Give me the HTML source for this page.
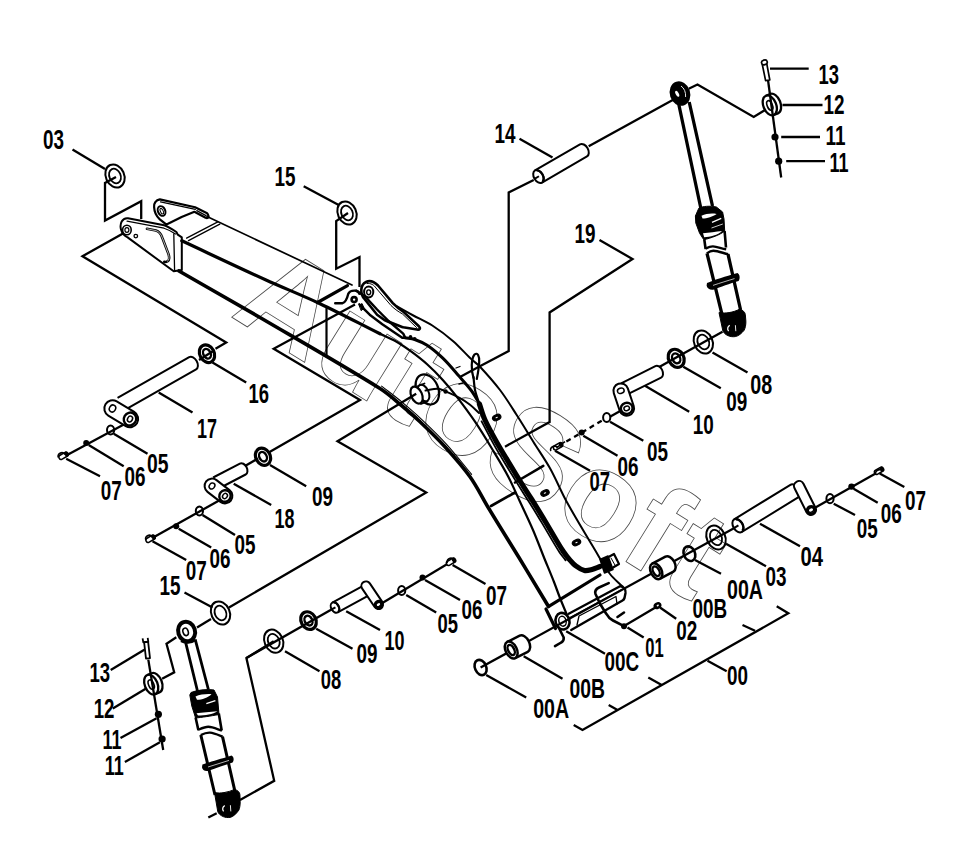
<!DOCTYPE html>
<html><head><meta charset="utf-8"><title>Boom parts</title>
<style>
html,body{margin:0;padding:0;background:#fff;overflow:hidden;}
svg{display:block;}
.t{font-family:"Liberation Sans",sans-serif;font-weight:bold;font-size:27px;fill:#000;stroke:none;}
</style></head><body>
<svg width="959" height="851" viewBox="0 0 959 851">
<rect width="959" height="851" fill="#fff"/>
<g id="wm" fill="none" stroke="#8a8a8a" stroke-width="0.8">
<text x="0" y="0" transform="translate(229,315.5) rotate(31.8)" style="font-family:'Liberation Sans',sans-serif;font-weight:bold;font-size:128px" fill="none" stroke="#4a4a4a" stroke-width="0.8">AutoSof<tspan dx="5">t</tspan></text>

</g>
<g id="boom" fill="none" stroke="#000" stroke-linecap="round" stroke-linejoin="round">
<!-- back ear -->
<path d="M159.8,199.4 C156,200 153.5,203.5 154.1,207 C154.3,211.5 156,216 159.8,219.3 L166.5,224.6 L181.6,217.1 L194.4,211.8 L205.6,217.8 C207.5,218.5 209,217.5 208.6,216.3 C208,214.5 207.5,213.8 207.1,213.3 L195.1,207.3 Z" stroke-width="2.2" fill="#fff"/>
<path d="M160.5,201.8 L195.4,209.4 M196.8,210.6 L206,215.6" stroke-width="1.2"/>
<ellipse cx="161.6" cy="211" rx="3.6" ry="5" transform="rotate(-25 161.6 211)" stroke-width="2"/>
<ellipse cx="161.8" cy="211.2" rx="1.4" ry="3" transform="rotate(-25 161.8 211.2)" stroke-width="1"/>
<!-- beam top edge -->
<path d="M207,216.5 L352,285" stroke-width="1.7"/>
<path d="M186.6,238.1 L217.8,221.9 M188.5,240.6 L219.8,224.2" stroke-width="1.3"/>
<!-- front ear -->
<path d="M177.8,234.7 L176.4,232 C172,229 168,226.5 164.2,225.2 L128,218.2 C122,217.5 119.5,224 121,229.5 C122,233 124.5,236 127.6,237.4 L173.7,271.3 L181.8,270 L181.8,237.4 Z" stroke-width="2" fill="#fff"/>
<path d="M127,221.2 L164,228.2 C168,229.5 172,231.5 175.5,234" stroke-width="1.2"/>
<path d="M173.8,234 L174.6,271" stroke-width="1.3"/>
<path d="M147,228.8 L155.9,230.6 C159,231.5 161,234 162.2,237.5 L168.6,254.4 C169.5,257.5 169,260.5 167.5,261.3 C166.5,262 165,262 164.3,261.8" stroke-width="2.6"/>
<path d="M147,228.8 L155.9,230.6 C159,231.5 161,234 162.2,237.5 L168.6,254.4 C169.5,257.5 169,260.5 167.5,261.3" stroke-width="0.7" stroke="#fff"/>
<ellipse cx="126.9" cy="230" rx="4.3" ry="4.8" stroke-width="1.6"/>
<ellipse cx="126.9" cy="230" rx="2" ry="2.4" stroke-width="1.2"/>
<circle cx="135.8" cy="236.1" r="1.8" stroke-width="1.3"/>
<!-- box end -->
<path d="M317.5,302.5 L347.5,285.6" stroke-width="3.2"/>
<path d="M326.5,308.7 L326.5,355" stroke-width="2.2"/>
<!-- top ear -->
<path d="M364.5,299 C360,294 360,285 366,282 C370,280 374,281.5 378,285.5 L392.8,303.2 C396,306.5 399,309 403.2,311.6 L418.9,326.3 C421,328.5 419.5,330 417,329.5 L403.2,327.3 C397,325 390,322.5 384.4,320 L377.1,314.7 Z" stroke-width="2.6" fill="#fff"/>
<path d="M367,283.5 C371,283 374,285 376,288 L391,305.5 C395,309.5 399,312 402.5,314 L416.5,327.5" stroke-width="1"/>
<ellipse cx="368.7" cy="292" rx="4.6" ry="5.4" stroke-width="2"/>
<ellipse cx="368.7" cy="292.3" rx="2" ry="2.4" stroke-width="1.4"/>
<!-- lower ear + hook -->
<path d="M335.2,303.2 L342.6,303.2 C345.5,302.5 347,299 348.3,293.8 C349.5,291 352,290.2 356.2,290.7 C358,291 359,292.5 359.3,293.8" stroke-width="2.4"/>
<path d="M356.2,290.7 L364.5,295.9 L377.1,309.5 L388.6,321 L403.2,333.6 L405.3,337.8 L402.2,337.8 L382.3,324.2 L369.7,314.7 L359.3,304.3" stroke-width="2.4"/>
<circle cx="354.1" cy="299.6" r="2.5" stroke-width="2.6"/>
<path d="M359.5,305.5 L362,303.5 L364,308 L361.5,310.5 Z" fill="#000" stroke-width="1"/>
<circle cx="410.5" cy="336.7" r="1.8" fill="#000" stroke="none"/>
<circle cx="414.7" cy="338.8" r="1.8" fill="#000" stroke="none"/>
<!-- pin boss -->
<ellipse cx="427.3" cy="389.4" rx="10.8" ry="15.8" transform="rotate(-24 427.3 389.4)" stroke-width="2.2"/>
<path d="M418,386 L424.5,383.5 M421,404 L427.5,401.5" stroke-width="1.8"/>
<ellipse cx="423.5" cy="393" rx="5.2" ry="8.8" transform="rotate(-24 423.5 393)" stroke-width="2"/>
<ellipse cx="416.6" cy="395.1" rx="5.4" ry="9" transform="rotate(-24 416.6 395.1)" stroke-width="2.2" fill="#fff"/>
<circle cx="445.6" cy="391.5" r="2.2" fill="#000" stroke="none"/>
<!-- grease tube loop -->
<path d="M473.5,378 C471,370 471,359 474.5,354.5 C477.5,352 479.5,356 479.2,362 C479,368 478,373 476.8,379" stroke-width="2.2"/>
<path d="M456,368 L460,366.5 M459,384 L463,383" stroke-width="1.3"/>
<!-- cross plates -->
<path d="M491,506 L515,492.5" stroke-width="2.6"/>
<path d="M515,482.5 L543.3,465.8" stroke-width="2.6"/>
<path d="M550,605.6 L600,575" stroke-width="3.2"/>
<!-- boss at boom end -->
<path d="M568.7,613.7 L620,586.2 C624,586 626,590 625.5,593 L624.5,598 C624,599.5 623.5,600 622.5,600.5 L571.2,630" stroke-width="2.4"/>
<path d="M570,617.5 L621,590" stroke-width="1.1"/>
<path d="M577,625 L579,616 L616,596.5 L617,604" stroke-width="1.3"/>
<ellipse cx="562.5" cy="621.2" rx="6.9" ry="8.4" transform="rotate(-15 562.5 621.2)" stroke-width="2.6" fill="#fff"/>
<ellipse cx="562.5" cy="621.2" rx="3.6" ry="5" transform="rotate(-15 562.5 621.2)" stroke-width="1.5"/>
<path d="M546,609 L555.5,628.5" stroke-width="3.2"/>
<path d="M558.7,627.5 L563.7,637.5 C564,640 563,641.5 561.2,642.5 L555,646.2" stroke-width="2.6"/>
<path d="M608.7,583.1 L599,587.5 C596,589 594.5,591 595.5,594 L600,603.7 L606.2,613.7 C608,617 610,619 613,620.5 L624,626.2" stroke-width="2.6"/>
<path d="M617.5,617 L624,612.5" stroke-width="2.6"/>
<path d="M600,559.5 L608,556 L613,569.5 L604.5,573 Z" fill="#000" stroke-width="1.5"/>
<path d="M608.5,557 L614,554 L619,564 L613,567.5" stroke-width="2.2"/>
<path d="M611,558 L615.5,566" stroke-width="1"/>
<!-- grease dots -->
<ellipse cx="496.7" cy="417.5" rx="4.4" ry="2.8" transform="rotate(-25 496.7 417.5)" fill="#000" stroke="#000" stroke-width="1.2"/><ellipse cx="496.7" cy="417.5" rx="1.3" ry="0.6" transform="rotate(-25 496.7 417.5)" fill="#fff" stroke="none"/>
<ellipse cx="545" cy="493" rx="4.4" ry="2.8" transform="rotate(-25 545 493)" fill="#000" stroke="#000" stroke-width="1.2"/><ellipse cx="545" cy="493" rx="1.3" ry="0.6" transform="rotate(-25 545 493)" fill="#fff" stroke="none"/>
<ellipse cx="576.5" cy="542.5" rx="4.4" ry="2.8" transform="rotate(-25 576.5 542.5)" fill="#000" stroke="#000" stroke-width="1.2"/><ellipse cx="576.5" cy="542.5" rx="1.3" ry="0.6" transform="rotate(-25 576.5 542.5)" fill="#fff" stroke="none"/>

<path d="M179.0,271.0 C206.0,286.5 233.1,301.8 260.0,317.5 C300.1,341.0 340.6,364.0 380.0,388.5 C387.6,393.2 394.2,399.3 401.0,405.0 C407.5,410.4 413.9,415.9 420.0,421.7 C428.5,429.8 437.1,438.0 445.0,446.7 C453.7,456.3 462.5,466.1 470.0,476.7 C477.2,486.8 482.6,498.2 489.0,508.8 C498.7,524.9 508.7,540.8 518.5,556.8 C528.6,573.3 538.5,589.9 548.5,606.5" stroke-width="3.6"/>
<path d="M381.6,386.1 C388.6,391.6 395.8,396.9 402.6,402.6 C409.1,408.0 415.5,413.5 421.6,419.3 C430.1,427.4 438.7,435.6 446.6,444.3 C455.3,453.9 463.3,464.3 471.6,474.3" stroke-width="1.1"/>
<path d="M181.8,240.8 C209.9,253.9 237.8,267.2 266.0,280.0 C283.9,288.1 302.2,295.3 320.0,303.7 C340.2,313.2 360.0,323.8 380.0,333.8" stroke-width="3.2"/>
<path d="M380.0,333.8 C385.2,336.3 390.7,338.4 395.7,341.2 C401.1,344.3 406.3,347.9 411.4,351.6 C416.8,355.6 422.1,359.7 427.1,364.2 C432.6,369.1 437.8,374.4 442.8,379.9 C447.7,385.3 452.3,390.9 456.7,396.7 C463.0,404.9 469.2,413.2 475.0,421.7 C480.9,430.4 486.3,439.3 491.7,448.3 C497.4,457.7 503.2,467.0 508.3,476.7 C512.6,484.9 516.1,493.4 520.0,501.8 C524.4,511.2 528.9,520.5 533.0,530.0 C537.2,539.9 541.0,550.0 545.0,560.0 C548.0,567.3 551.1,574.6 554.0,582.0 C556.1,587.3 557.9,592.7 560.0,598.0 C562.2,603.7 564.7,609.3 567.0,615.0" stroke-width="2.2"/>
<path d="M397.0,306.4 C402.1,309.3 407.2,312.2 412.4,315.0 C419.0,318.6 426.0,321.5 432.3,325.5 C439.6,330.2 446.6,335.5 453.2,341.2 C459.5,346.7 464.9,353.1 471.0,358.9 C473.9,361.6 477.3,363.8 480.0,366.7 C487.0,374.2 493.8,381.9 500.0,390.0 C506.1,398.0 511.3,406.6 516.7,415.0 C522.4,423.8 527.7,432.8 533.3,441.7 C538.8,450.6 544.9,459.2 550.0,468.3 C556.1,479.2 560.7,490.9 566.7,501.8 C575.7,518.1 585.4,534.0 595.0,550.0 C599.9,558.1 604.4,566.5 610.0,574.0 C613.5,578.7 618.3,582.3 622.5,586.5" stroke-width="2"/>
<path d="M405.0,337.8 C408.2,338.4 411.6,338.5 414.7,339.5 C419.0,341.0 423.3,342.8 427.1,345.3 C432.7,349.0 437.9,353.5 442.8,358.2 C448.4,363.6 453.4,369.7 458.5,375.6 C463.1,380.8 467.9,385.9 472.0,391.5 C474.9,395.4 476.9,399.8 479.4,404.0" stroke-width="3"/>
<path d="M479.4,404.0 C481.3,409.3 482.6,414.9 485.0,420.0 C488.9,428.5 493.7,436.8 498.3,445.0 C503.1,453.5 508.3,461.7 513.3,470.0 C517.7,477.3 522.2,484.5 526.7,491.7 C528.8,495.1 531.2,498.4 533.3,501.8 C537.3,508.2 541.1,514.6 545.0,521.0 C549.4,528.3 553.6,535.7 558.0,543.0 C559.6,545.7 561.2,548.4 563.0,551.0 C564.9,553.7 566.8,556.5 569.0,559.0 C571.2,561.5 573.4,564.1 576.0,566.0 C578.5,567.9 581.5,569.8 584.5,570.5 C586.8,571.0 589.6,570.1 592.0,569.5 C594.7,568.8 597.3,567.5 600.0,566.5" stroke-width="5.2"/>
<path d="M481.6,421.4 C486.0,429.7 490.3,438.2 494.9,446.4 C499.7,454.9 504.9,463.1 509.9,471.4 C514.3,478.7 518.8,485.9 523.3,493.1 C525.4,496.5 527.8,499.8 529.9,503.2 C533.9,509.6 537.7,516.0 541.6,522.4 C546.0,529.7 550.2,537.1 554.6,544.4 C556.2,547.1 557.8,549.8 559.6,552.4 C561.5,555.1 563.6,557.7 565.6,560.4" stroke-width="1.8"/>
<path d="M473.5,377.0 C474.0,381.3 474.1,385.8 475.0,390.0 C476.0,394.8 477.9,399.3 479.4,404.0" stroke-width="2.2"/>
<path d="M425.5,390.6 C429.5,390.0 433.6,388.7 437.5,388.8 C440.3,388.9 443.0,390.2 445.6,391.3 C450.5,393.3 455.4,395.6 460.0,398.2 C463.5,400.1 466.9,402.4 470.0,404.8 C473.2,407.3 476.0,410.3 479.0,413.0" stroke-width="2"/>

</g>
<g id="lead" fill="none" stroke="#000" stroke-width="2.3" stroke-linecap="butt" stroke-linejoin="miter">

<!-- upper left 03 -->
<path d="M72.5,149.5 L105,169"/>
<path d="M116,177 L105,183 L105,220.5 L141.2,201.2 L141.2,219"/>
<!-- 15 upper -->
<path d="M303.7,186.2 L338.7,205"/>
<path d="M348,213 L336.2,221 L336.2,268.7 L359.5,257 L359.5,287"/>
<!-- big left bracket to 16 -->
<path d="M123,233.5 L82.5,256.2 L226.2,342.5 L215.5,348.8"/>
<path d="M212.5,362.5 L246.2,382.5"/>
<path d="M199,360 L214,350.5"/>
<path d="M245,466 L258,458.5"/>
<path d="M158.7,392.5 L192.5,412.5"/>
<!-- 17 group axis -->
<path d="M127.5,422.5 L62.5,457.5"/>
<path d="M113.7,433.7 L147.5,453.7"/>
<path d="M88.7,445 L123.7,466.2"/>
<path d="M66.2,458.7 L100,476.2"/>
<!-- center bracket 1 : ear -> 09 -->
<path d="M355,304.4 L273.7,348.7 L360,400 L268.7,452.5"/>
<path d="M270,465 L306.2,486.2"/>
<path d="M233.7,483.7 L271.2,505"/>
<!-- 18 group axis -->
<path d="M220,500 L148.7,540"/>
<path d="M202.5,515 L235,535"/>
<path d="M178.7,528.7 L211.2,547.5"/>
<path d="M152.5,541.2 L186.2,560"/>
<!-- center bracket 2 : pin boss -> 15 lower -->
<path d="M416.2,393.7 L337.5,441.2 L426.2,492.5 L229,607.5"/>
<path d="M184.5,592.5 L212.5,607.5"/>
<path d="M211,619 L197,627.4"/>
<!-- lower cylinder left links -->
<path d="M176.3,637.2 L166.5,643.8 L174.2,672.3 L162.1,678.8"/>
<path d="M148.3,659.6 L163.2,750"/>
<path d="M144.3,649.7 L110.7,670"/>
<path d="M145.7,688.7 L112.8,708.4"/>
<path d="M156.6,718.2 L120.5,738"/>
<path d="M159.9,742.3 L124.9,762"/>
<!-- lower pin 10 group -->
<path d="M246.4,658 L335,607.5"/>
<path d="M379,605 L451.5,561.5"/>
<path d="M273.7,641.2 L246.4,658 L274.2,780.8 L240,800"/>
<path d="M216.7,813.3 L208.3,817.5"/>
<path d="M285,651.2 L319.5,671.2"/>
<path d="M316.2,628.7 L352.5,648.7"/>
<path d="M346.2,611.2 L380,630"/>
<path d="M406.2,595 L436.2,612.5"/>
<path d="M425,580 L460,600"/>
<path d="M452.6,565.1 L485.5,583.9"/>
<!-- 14 -->
<path d="M519.5,138.7 L552.5,157.5"/>
<path d="M533.7,180 L508.7,192.5 L508.7,351 L477.5,367.5 L460,377"/>
<path d="M588.7,146.2 L675,98.7"/>
<!-- right top cylinder links -->
<path d="M688.7,88.7 L697.5,84.5 L753.7,117 L765,110"/>
<path d="M768,80 L781.2,177.5"/>
<path d="M770,68.7 L808.7,68.7"/>
<path d="M782.5,105 L822.5,105"/>
<path d="M781.2,137 L820,137"/>
<path d="M786.2,161.2 L825,161.2"/>
<!-- 19 -->
<path d="M599.5,240 L632.5,259 L549.6,312.5 L549.6,422 L505,446.7"/>
<!-- upper right pin 10 group -->
<path d="M722.5,331.7 L658.3,367.5"/>
<path d="M712.5,352.5 L747.5,372.5"/>
<path d="M683.3,366.7 L720.8,388.3"/>
<path d="M645,385.8 L689.2,411.7"/>
<path d="M623.3,409.2 L610,416.7"/>
<path d="M601.7,420.8 L553.3,449.2" stroke-dasharray="5,4"/>
<path d="M610,421.7 L643.3,440.8"/>
<path d="M583.3,435.8 L617.5,455.8"/>
<path d="M555,450.8 L590,470.8"/>
<!-- right pin 04 group -->
<path d="M480.6,667.5 L738,526"/>
<path d="M811,510 L880,471"/>
<path d="M833.7,503.7 L855,515"/>
<path d="M853.6,488.7 L877.7,502.8"/>
<path d="M879.7,473.5 L904.3,487.1"/>
<path d="M760,523.7 L800,546.2"/>
<path d="M726,543.7 L766,566.2"/>
<path d="M695,560 L721,573.7"/>
<!-- 00 bracket and lower labels -->
<path d="M776.7,606.3 L788.3,613.3 L582.5,730 L573.7,725"/>
<path d="M755,630.8 L742.5,625"/>
<path d="M661.7,685 L648.3,677.5"/>
<path d="M617.5,710 L608.7,705"/>
<path d="M707.5,660.8 L726.7,671.3"/>
<path d="M486.2,675 L526.2,697.5"/>
<path d="M523.7,656.2 L562.5,678.7"/>
<path d="M566.2,631.2 L605,653.7"/>
<path d="M627.5,627.5 L643.7,637.5"/>
<path d="M623.7,626.2 L657.5,606.2"/>
<path d="M660,607.5 L676.2,618.7"/>
</g>
<g id="pins" fill="none" stroke="#000" stroke-linejoin="round">
<g transform="translate(538.5,176.5) rotate(-30.1)" stroke-width="2"><path d="M0,-7.0 L52.0,-7.0 A4.6,7.0 0 0 1 52.0,7.0 L0,7.0" fill="#fff"/><ellipse cx="0" cy="0" rx="4.6" ry="7.0" fill="#fff"/><path d="M-4.6,0 L0.5,0" stroke-width="2"/><path d="M1.0,-6.0 A3.4,6.0 0 0 1 1.0,6.0" stroke-width="2.2"/></g>
<g transform="translate(121.0,404.0) rotate(-29.6)" stroke-width="2"><path d="M0,-7.0 L82.4,-7.0 A4.6,7.0 0 0 1 82.4,7.0 L0,7.0" fill="#fff"/></g>
<g transform="translate(112.5,408.5) rotate(31.0)" stroke-width="2"><rect x="-8.2" y="-8.2" width="36.8" height="16.4" rx="8.2" fill="#fff"/><ellipse cx="0" cy="0" rx="3.0" ry="3.6" stroke-width="1.5"/><ellipse cx="20.4" cy="0" rx="2.4" ry="3.0" stroke-width="1.5"/><ellipse cx="20.4" cy="0" rx="6.1" ry="6.6" stroke-width="2.4"/></g>
<g transform="translate(216.0,483.0) rotate(-27.6)" stroke-width="2"><path d="M0,-6.2 L30.2,-6.2 A4.2,6.2 0 0 1 30.2,6.2 L0,6.2" fill="#fff"/></g>
<g transform="translate(212.0,486.0) rotate(37.6)" stroke-width="2"><rect x="-7.4" y="-7.4" width="31.2" height="14.8" rx="7.4" fill="#fff"/><ellipse cx="0" cy="0" rx="2.6" ry="3.2" stroke-width="1.5"/><ellipse cx="16.4" cy="0" rx="2.2" ry="2.8" stroke-width="1.5"/><ellipse cx="16.4" cy="0" rx="5.6" ry="5.9" stroke-width="2.4"/></g>
<g transform="translate(624.0,389.0) rotate(-26.6)" stroke-width="2"><path d="M0,-6.4 L38.3,-6.4 A4.3,6.4 0 0 1 38.3,6.4 L0,6.4" fill="#fff"/></g>
<g transform="translate(620.8,390.8) rotate(71.4)" stroke-width="2"><rect x="-7.4" y="-7.4" width="33.3" height="14.8" rx="7.4" fill="#fff"/><ellipse cx="0" cy="0" rx="2.6" ry="3.4" stroke-width="1.5"/><ellipse cx="18.5" cy="0" rx="2.2" ry="2.8" stroke-width="1.5"/><ellipse cx="18.5" cy="0" rx="5.6" ry="5.9" stroke-width="2.4"/></g>
<g transform="translate(335.0,607.5) rotate(-28.7)" stroke-width="2"><path d="M0,-5.6 L35.0,-5.6 A3.8,5.6 0 0 1 35.0,5.6 L0,5.6" fill="#fff"/><ellipse cx="0" cy="0" rx="3.8" ry="5.6" fill="#fff"/><path d="M-3.8,0 L0.5,0" stroke-width="2"/><path d="M1.0,-4.8 A2.8,4.8 0 0 1 1.0,4.8" stroke-width="2.2"/></g>
<g transform="translate(366.0,586.0) rotate(56.0)" stroke-width="2"><rect x="-4.6" y="-4.6" width="31.5" height="9.2" rx="4.6" fill="#fff"/><ellipse cx="22.3" cy="0" rx="2.0" ry="2.6" stroke-width="1.5"/><ellipse cx="22.3" cy="0" rx="3.4" ry="3.7" stroke-width="2.4"/></g>
<g transform="translate(738.0,525.6) rotate(-31.5)" stroke-width="2"><path d="M0,-7.4 L66.0,-7.4 A4.8,7.4 0 0 1 66.0,7.4 L0,7.4" fill="#fff"/><ellipse cx="0" cy="0" rx="4.8" ry="7.4" fill="#fff"/><path d="M-4.8,0 L0.5,0" stroke-width="2"/><path d="M1.0,-6.3 A3.6,6.3 0 0 1 1.0,6.3" stroke-width="2.2"/></g>
<g transform="translate(799.0,486.0) rotate(63.4)" stroke-width="2"><rect x="-5.0" y="-5.0" width="36.8" height="10.0" rx="5.0" fill="#fff"/><ellipse cx="26.8" cy="0" rx="2.2" ry="2.8" stroke-width="1.5"/><ellipse cx="26.8" cy="0" rx="3.8" ry="4.0" stroke-width="2.4"/></g>
<g transform="translate(511.2,650.0) rotate(-26.6)" stroke-width="2.5"><path d="M0,-9.0 L14.0,-9.0 A5.6,9.0 0 0 1 14.0,9.0 L0,9.0" fill="#fff"/><ellipse cx="0" cy="0" rx="5.6" ry="9.0" fill="#fff"/></g>
<ellipse cx="511.2" cy="650" rx="3" ry="5.5" transform="rotate(-26.6 511.2 650)" stroke-width="2.4"/>
<g transform="translate(656.2,571.2) rotate(-28.0)" stroke-width="2.5"><path d="M0,-8.5 L15.0,-8.5 A5.4,8.5 0 0 1 15.0,8.5 L0,8.5" fill="#fff"/><ellipse cx="0" cy="0" rx="5.4" ry="8.5" fill="#fff"/></g>
<ellipse cx="656.2" cy="571.2" rx="3" ry="5.2" transform="rotate(-28 656.2 571.2)" stroke-width="2.4"/>
<g transform="translate(769.8,105.4) rotate(-22)" stroke-width="2.3"><path d="M0,-10.4 L4.6,-10.4 A6.4,10.4 0 0 1 4.6,10.4 L0,10.4"/><ellipse rx="6.4" ry="10.4"/><ellipse rx="2.6" ry="5" stroke-width="1.6"/></g>
<g transform="translate(151.2,684.6) rotate(-22)" stroke-width="2.3"><path d="M0,-10.4 L4.6,-10.4 A6.4,10.4 0 0 1 4.6,10.4 L0,10.4"/><ellipse rx="6.4" ry="10.4"/><ellipse rx="2.6" ry="5" stroke-width="1.6"/></g>
<g transform="translate(64.0,455.5) rotate(-30)" stroke-width="1.5"><rect x="-5.5" y="-2.2" width="9.5" height="4.4" rx="2.2" fill="#fff"/><ellipse cx="3" cy="0" rx="2.2" ry="2.8" fill="#000" stroke="none"/></g>
<g transform="translate(151.0,538.5) rotate(-30)" stroke-width="1.5"><rect x="-5.5" y="-2.2" width="9.5" height="4.4" rx="2.2" fill="#fff"/><ellipse cx="3" cy="0" rx="2.2" ry="2.8" fill="#000" stroke="none"/></g>
<g transform="translate(451.5,561.5) rotate(-30)" stroke-width="1.5"><rect x="-5.5" y="-2.2" width="9.5" height="4.4" rx="2.2" fill="#fff"/><ellipse cx="3" cy="0" rx="2.2" ry="2.8" fill="#000" stroke="none"/></g>
<g transform="translate(558.5,446.0) rotate(-30)" stroke-width="1.5"><rect x="-5.5" y="-2.2" width="9.5" height="4.4" rx="2.2" fill="#fff"/><ellipse cx="3" cy="0" rx="2.2" ry="2.8" fill="#000" stroke="none"/></g>
<g transform="translate(879.5,470.5) rotate(-30)" stroke-width="1.5"><rect x="-5.5" y="-2.2" width="9.5" height="4.4" rx="2.2" fill="#fff"/><ellipse cx="3" cy="0" rx="2.2" ry="2.8" fill="#000" stroke="none"/></g>
<circle cx="624" cy="626.2" r="3" fill="#000" stroke="none"/>
<g transform="translate(657.5,605.6) rotate(-30)"><ellipse rx="3.4" ry="2.6" fill="#000" stroke-width="1.4"/><ellipse cx="0.3" rx="1.2" ry="0.8" fill="#fff" stroke="none"/></g>
<g stroke-width="1.7"><path d="M762.3,64.5 L765.6,80.6 L769.8,80 L766.8,63.8 Z" fill="#fff"/><ellipse cx="764.4" cy="62.4" rx="2.9" ry="2.3" transform="rotate(-15 764.4 62.4)" fill="#fff"/></g>
<g stroke-width="1.8"><path d="M144.1,642.2 L146,658.6 L150,658.2 L148.1,641.7 Z" fill="#fff"/><path d="M142.6,638.3 L143.3,642.3 L148.3,641.8 L147.7,637.9"/></g>

</g>
<g id="parts" fill="none" stroke="#000" stroke-width="2">

<!-- washers -->
<ellipse cx="115" cy="176" rx="9.2" ry="12" transform="rotate(-24 115 176)"/>
<ellipse cx="115" cy="176" rx="5.6" ry="7.6" transform="rotate(-24 115 176)" stroke-width="1.8"/>
<ellipse cx="347" cy="213" rx="9.2" ry="12" transform="rotate(-24 347 213)"/>
<ellipse cx="347" cy="213" rx="5.6" ry="7.6" transform="rotate(-24 347 213)" stroke-width="1.8"/>
<ellipse cx="220.5" cy="613" rx="9.2" ry="12" transform="rotate(-24 220.5 613)"/>
<ellipse cx="220.5" cy="613" rx="5.6" ry="7.6" transform="rotate(-24 220.5 613)" stroke-width="1.8"/>
<ellipse cx="273.7" cy="641.2" rx="9.2" ry="12" transform="rotate(-24 273.7 641.2)"/>
<ellipse cx="273.7" cy="641.2" rx="5.6" ry="7.6" transform="rotate(-24 273.7 641.2)" stroke-width="1.8"/>
<ellipse cx="703.3" cy="342" rx="9.2" ry="12" transform="rotate(-24 703.3 342)"/>
<ellipse cx="703.3" cy="342" rx="5.6" ry="7.6" transform="rotate(-24 703.3 342)" stroke-width="1.8"/>
<ellipse cx="716" cy="537.5" rx="9.2" ry="12.4" transform="rotate(-24 716 537.5)"/>
<ellipse cx="716" cy="537.5" rx="5.6" ry="8" transform="rotate(-24 716 537.5)" stroke-width="1.8"/>
<!-- thick washers 16 / 09 -->
<ellipse cx="207" cy="353.7" rx="7.2" ry="9.2" transform="rotate(-28 207 353.7)" stroke-width="3.2"/>
<ellipse cx="207" cy="353.7" rx="3.6" ry="5.1" transform="rotate(-28 207 353.7)" stroke-width="2.4"/>
<ellipse cx="263" cy="456.7" rx="7.2" ry="9" transform="rotate(-28 263 456.7)" stroke-width="3.2"/>
<ellipse cx="263" cy="456.7" rx="3.6" ry="5.0" transform="rotate(-28 263 456.7)" stroke-width="2.4"/>
<ellipse cx="308.5" cy="620.6" rx="7.4" ry="9.2" transform="rotate(-28 308.5 620.6)" stroke-width="3.2"/>
<ellipse cx="308.5" cy="620.6" rx="3.7" ry="5.1" transform="rotate(-28 308.5 620.6)" stroke-width="2.4"/>
<ellipse cx="676.2" cy="358.3" rx="7.6" ry="9.4" transform="rotate(-28 676.2 358.3)" stroke-width="3.2"/>
<ellipse cx="676.2" cy="358.3" rx="3.8" ry="5.2" transform="rotate(-28 676.2 358.3)" stroke-width="2.4"/>
<!-- 00A rings -->
<ellipse cx="689.4" cy="553.7" rx="5.6" ry="7.6" transform="rotate(-24 689.4 553.7)" stroke-width="2.6"/>
<ellipse cx="480.6" cy="667.5" rx="5.6" ry="8" transform="rotate(-24 480.6 667.5)" stroke-width="2.6"/>
<!-- small washers 05 -->
<ellipse cx="110.6" cy="430" rx="3.6" ry="4.6" stroke-width="2"/>
<ellipse cx="199.4" cy="511" rx="3.6" ry="4.6" stroke-width="2"/>
<ellipse cx="401.7" cy="590.5" rx="3.6" ry="4.6" stroke-width="2"/>
<ellipse cx="606.7" cy="417.5" rx="3.6" ry="4.6" stroke-width="2"/>
<ellipse cx="830" cy="498.7" rx="3.6" ry="4.6" stroke-width="2"/>
<!-- dots 06 / 11 -->
<g fill="#000" stroke="none">
<circle cx="86.2" cy="443" r="3"/>
<circle cx="176.2" cy="526.2" r="3"/>
<circle cx="422.5" cy="577.5" r="3"/>
<circle cx="581.7" cy="432.5" r="3"/>
<circle cx="851.5" cy="486.6" r="3.2"/>
<circle cx="775" cy="137" r="3.6"/>
<circle cx="778.7" cy="161.2" r="3.6"/>
<circle cx="158.4" cy="714.3" r="3.6"/>
<circle cx="162.1" cy="739" r="3.6"/>
</g>
<!-- 07 pins -->
<g stroke-width="1.6">
<path d="M58.5,457.5 a3.5,2.6 -30 1,1 6,-3.5 L70,453.5"/>
<path d="M146,540 a3.5,2.6 -30 1,1 6,-3.5 L157,535.5"/>
<path d="M447.5,563 a3.5,2.6 -30 1,1 6,-3.5"/>
<path d="M551,451 a3.5,2.6 -30 1,1 6,-3.5 L565,441.7"/>
<path d="M876,474.5 a3.5,2.6 -30 1,1 6,-3.5"/>
</g>
</g>
<g id="cyl" fill="none" stroke="#000" stroke-linejoin="round">
<!-- RIGHT CYLINDER -->
<path d="M678.5,103 L701.2,210 M689.2,102 L712.5,206" stroke-width="3.3"/>
<ellipse cx="680" cy="93.6" rx="10.2" ry="12.4" transform="rotate(-18 680 93.6)" fill="#000" stroke="none"/>
<ellipse cx="677.2" cy="93.8" rx="1.5" ry="3.3" transform="rotate(-28 677.2 93.8)" fill="#fff" stroke="none"/>
<path d="M681,86 Q686,89.5 685.6,97" stroke="#fff" stroke-width="0.9"/>
<path d="M698.8,208.2 C702.5,206.2 710,205.6 716.4,207 L722.6,212 L724,219 L724.7,231 C720,235 711,238 703.8,239.8 L699.6,233.3 L695.8,223 L695.4,216 Z" fill="#000" stroke="#000" stroke-width="1"/>
<path d="M701.5,215.8 C706,213.6 712,213 716.6,214 C713,216.6 707,218.6 702.5,218.6 Z" fill="#fff" stroke="none"/>
<path d="M712,222.3 L721.2,218.4" stroke="#fff" stroke-width="1.4"/>
<path d="M711.5,228 L722.8,224" stroke="#fff" stroke-width="0.8"/>
<path d="M703,233.2 C709,232.6 716,231.7 722,231 C718,235 710,237.2 704.2,237.2 Z" fill="#fff" stroke="none"/>
<path d="M704.3,239.5 L705.6,249 M724.6,231 L726,247.5" stroke-width="2.6"/>
<path d="M705.4,248.6 C708,247.4 710.5,246.3 713,246.4 C717,246.6 721.5,248.6 726.2,249.3" stroke-width="2.4"/>
<path d="M706.8,253.4 C709,251.8 711,250.6 713.5,250.7 C718,251 723,253 728.2,254.2" stroke-width="2.4"/>
<path d="M707,253.4 L722,314.4 M728,254.2 L740.6,310" stroke-width="3.3"/>
<path d="M707,283 C712,280.6 722,277.4 732,274.4 L737.5,273 C740,274.6 740.3,278.6 738.6,281 C730,283.6 720,287 714,289.6 C710,290.4 707,288.6 706.6,285.6 Z" fill="#000" stroke="none"/>
<path d="M713,285.4 C720,283 728,280.6 734.5,278.6" stroke="#fff" stroke-width="0.7"/>
<path d="M719,312.6 C722.5,313.2 726,313.2 729.1,312.6 C733,312 736.5,310.8 739.7,309.1 C743,310.5 745,312 745.3,314.4 L745.9,321.4 C745.9,325 745.3,328 744.1,330.3 C741.5,333.5 738.5,336 735.3,336.6 C732.5,337 730,336.5 728.2,335.7 C725.5,334.6 723.8,333 722.9,331.1 Z" fill="#000" stroke="#000" stroke-width="1"/>
<path d="M729.8,325.4 C727.6,326.4 727,329.2 728.6,331.2" stroke="#fff" stroke-width="1.3"/>
<path d="M735.4,325.2 L735.8,331.2" stroke="#fff" stroke-width="0.9"/>
<!-- LEFT CYLINDER -->
<path d="M185.5,641.8 L197.6,691.5 M195.2,639.4 L208.4,689.5" stroke-width="2.8"/>
<ellipse cx="186.6" cy="631.5" rx="8.4" ry="9.8" transform="rotate(-18 186.6 631.5)" stroke-width="4" fill="#fff"/>
<ellipse cx="185.6" cy="631.8" rx="2.6" ry="3.8" transform="rotate(-18 185.6 631.8)" stroke-width="1.6"/>
<path d="M181,641 C185,643.5 191,643 195.5,640" stroke-width="2.4"/>
<path d="M191,692.5 C197,690 206,689 214,690 L217.5,697 L219,714.5 C211,716 201,717.5 195.6,718 L191.8,706 L189.8,695 Z" fill="#000" stroke="#000" stroke-width="1"/>
<path d="M195.5,696.5 C200,694.6 206,693.8 211.5,694.2 C208,697.6 202,699.8 197,699.8 Z" fill="#fff" stroke="none"/>
<path d="M206.3,703.6 L215.4,700.6" stroke="#fff" stroke-width="1.3"/>
<path d="M196.5,713.2 C202,712.6 210,711.8 217.5,711.3 C213,714.2 205,715.6 198,715.6 Z" fill="#fff" stroke="none"/>
<path d="M195.6,717.5 L198.4,730.2 M218.8,713.5 L221.7,730.5" stroke-width="2.6"/>
<path d="M198.2,729.8 C201.5,728.4 205,726.8 208.3,726.8 C212.5,726.8 217,729 221.9,730.6" stroke-width="2.4"/>
<path d="M200.8,735 C203.5,733.6 206.5,732.4 210,732.6 C214,733 218.5,735 222.7,736.6" stroke-width="2.4"/>
<path d="M200.8,735 L215,795 M222.5,736.7 L235,791.7" stroke-width="3"/>
<path d="M202.4,764.5 C208,762.6 218,759.6 227,757 L231.5,755.5 C234,756.6 234.3,760.4 232.6,762.5 C225,765 216,768.2 208.5,770.8 C205,771.6 202.3,770 202,767.3 Z" fill="#000" stroke="none"/>
<path d="M208,767 C215,764.8 222,762.5 229,760.4" stroke="#fff" stroke-width="0.7"/>
<path d="M214.5,792.6 C218,793.2 221,793.2 224,792.6 C228,792 231.5,790.8 234.6,789.4 C238,790.5 239.6,792 239.9,794.5 L240.2,801.5 C240.2,805 239.8,808 238.8,810.2 C236.2,813.8 233.4,816.6 230.2,817.4 C227.4,817.8 225,817.4 223.2,816.6 C220.6,815.4 218.6,813.8 217.8,811.8 Z" fill="#000" stroke="#000" stroke-width="1"/>
<path d="M224.8,805.6 C222.6,806.6 222,809.4 223.6,811.4" stroke="#fff" stroke-width="1.3"/>
<path d="M230.4,805.2 L230.8,811.4" stroke="#fff" stroke-width="0.9"/>

</g>
<g id="labels">

<text class="t" x="43" y="149" textLength="21" lengthAdjust="spacingAndGlyphs">03</text>
<text class="t" x="274.5" y="186" textLength="21" lengthAdjust="spacingAndGlyphs">15</text>
<text class="t" x="494.5" y="142.5" textLength="21" lengthAdjust="spacingAndGlyphs">14</text>
<text class="t" x="574.5" y="242.5" textLength="21" lengthAdjust="spacingAndGlyphs">19</text>
<text class="t" x="818.5" y="83.7" textLength="20.5" lengthAdjust="spacingAndGlyphs">13</text>
<text class="t" x="823.5" y="113.7" textLength="21" lengthAdjust="spacingAndGlyphs">12</text>
<text class="t" x="825.5" y="145" textLength="20" lengthAdjust="spacingAndGlyphs">11</text>
<text class="t" x="829.5" y="172" textLength="19" lengthAdjust="spacingAndGlyphs">11</text>
<text class="t" x="248.5" y="402.5" textLength="20.5" lengthAdjust="spacingAndGlyphs">16</text>
<text class="t" x="197" y="437.5" textLength="20" lengthAdjust="spacingAndGlyphs">17</text>
<text class="t" x="147" y="472.5" textLength="21.5" lengthAdjust="spacingAndGlyphs">05</text>
<text class="t" x="124.5" y="486.2" textLength="21" lengthAdjust="spacingAndGlyphs">06</text>
<text class="t" x="100.7" y="500" textLength="21" lengthAdjust="spacingAndGlyphs">07</text>
<text class="t" x="312" y="506.2" textLength="21" lengthAdjust="spacingAndGlyphs">09</text>
<text class="t" x="274.5" y="527.5" textLength="20" lengthAdjust="spacingAndGlyphs">18</text>
<text class="t" x="234.5" y="553.7" textLength="21" lengthAdjust="spacingAndGlyphs">05</text>
<text class="t" x="209.5" y="567.5" textLength="21" lengthAdjust="spacingAndGlyphs">06</text>
<text class="t" x="185.7" y="580" textLength="21" lengthAdjust="spacingAndGlyphs">07</text>
<text class="t" x="159.5" y="595" textLength="21" lengthAdjust="spacingAndGlyphs">15</text>
<text class="t" x="89.4" y="682.1" textLength="20.7" lengthAdjust="spacingAndGlyphs">13</text>
<text class="t" x="93.7" y="718.2" textLength="20.8" lengthAdjust="spacingAndGlyphs">12</text>
<text class="t" x="102.5" y="748.9" textLength="19" lengthAdjust="spacingAndGlyphs">11</text>
<text class="t" x="104.7" y="775.2" textLength="19" lengthAdjust="spacingAndGlyphs">11</text>
<text class="t" x="320.7" y="688.7" textLength="20.5" lengthAdjust="spacingAndGlyphs">08</text>
<text class="t" x="356.5" y="662.5" textLength="21" lengthAdjust="spacingAndGlyphs">09</text>
<text class="t" x="384.5" y="650" textLength="20" lengthAdjust="spacingAndGlyphs">10</text>
<text class="t" x="437.5" y="632.5" textLength="20.5" lengthAdjust="spacingAndGlyphs">05</text>
<text class="t" x="461.5" y="618.5" textLength="21" lengthAdjust="spacingAndGlyphs">06</text>
<text class="t" x="486" y="605.4" textLength="21" lengthAdjust="spacingAndGlyphs">07</text>
<text class="t" x="750.3" y="394.2" textLength="22" lengthAdjust="spacingAndGlyphs">08</text>
<text class="t" x="726.2" y="410.8" textLength="21" lengthAdjust="spacingAndGlyphs">09</text>
<text class="t" x="692.8" y="434.2" textLength="21" lengthAdjust="spacingAndGlyphs">10</text>
<text class="t" x="647" y="461.2" textLength="21" lengthAdjust="spacingAndGlyphs">05</text>
<text class="t" x="617.5" y="475.8" textLength="21" lengthAdjust="spacingAndGlyphs">06</text>
<text class="t" x="589.5" y="490.8" textLength="20.5" lengthAdjust="spacingAndGlyphs">07</text>
<text class="t" x="800.5" y="566.2" textLength="22.5" lengthAdjust="spacingAndGlyphs">04</text>
<text class="t" x="765.5" y="586" textLength="21" lengthAdjust="spacingAndGlyphs">03</text>
<text class="t" x="727" y="598.7" textLength="36" lengthAdjust="spacingAndGlyphs">00A</text>
<text class="t" x="692.5" y="618.3" textLength="34.7" lengthAdjust="spacingAndGlyphs">00B</text>
<text class="t" x="676.2" y="640" textLength="21" lengthAdjust="spacingAndGlyphs">02</text>
<text class="t" x="645.3" y="656.7" textLength="18.5" lengthAdjust="spacingAndGlyphs">01</text>
<text class="t" x="604.5" y="671.2" textLength="34.7" lengthAdjust="spacingAndGlyphs">00C</text>
<text class="t" x="727" y="685" textLength="21" lengthAdjust="spacingAndGlyphs">00</text>
<text class="t" x="569.5" y="697.5" textLength="35.5" lengthAdjust="spacingAndGlyphs">00B</text>
<text class="t" x="533.2" y="717.5" textLength="36" lengthAdjust="spacingAndGlyphs">00A</text>
<text class="t" x="856.8" y="537.9" textLength="21" lengthAdjust="spacingAndGlyphs">05</text>
<text class="t" x="880.8" y="523.2" textLength="21" lengthAdjust="spacingAndGlyphs">06</text>
<text class="t" x="904.9" y="509.6" textLength="21" lengthAdjust="spacingAndGlyphs">07</text>

</g>
</svg>
</body></html>
